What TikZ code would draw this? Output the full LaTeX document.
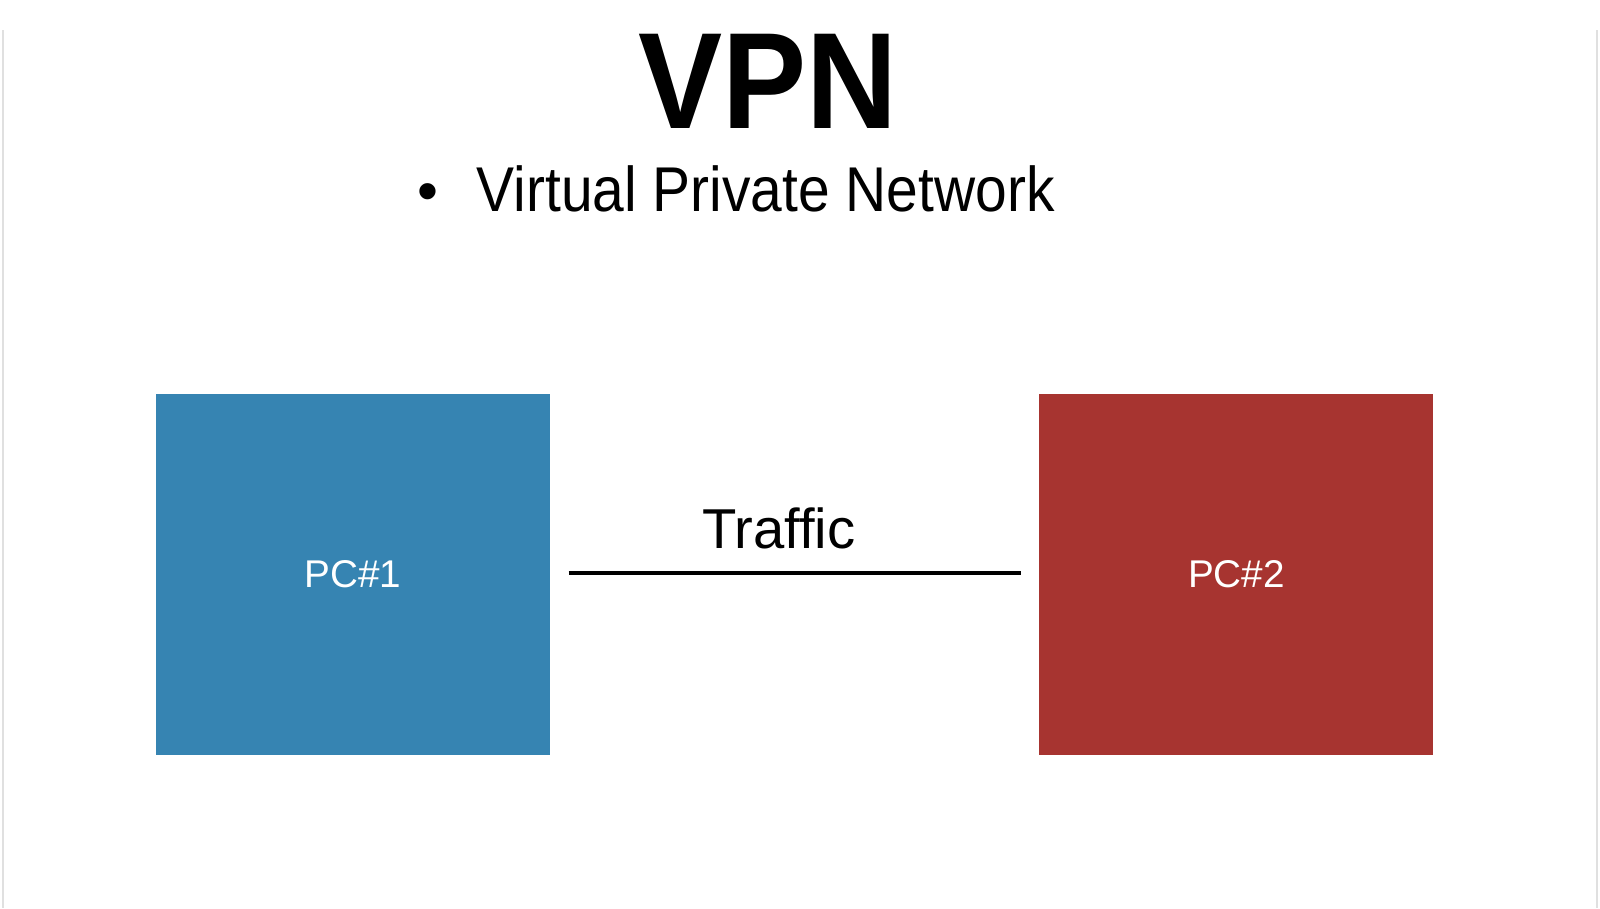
\documentclass[tikz,border=0pt]{standalone}
\usepackage{fontspec}
\setmainfont{Liberation Sans}
\newfontfamily\narrowfont{Liberation Sans}[FakeStretch=0.9]
\newfontfamily\titlefont{Liberation Sans}[FakeStretch=0.92]
\usepackage{tikz,xcolor}
\usetikzlibrary{positioning}

\definecolor{pcblue}{RGB}{54,132,178}
\definecolor{pcred}{RGB}{167,52,48}

\begin{document}
\begin{tikzpicture}[
    pcbox/.style={minimum width=3.94cm, minimum height=3.61cm, inner sep=0pt,
                  text=white, font=\fontsize{11}{13}\selectfont},
    node distance=4.88cm]
      % Fundo e bordas do slide
      \useasboundingbox[fill=white] (0,0) rectangle (16,9.08);
      \draw[black!12, line width=0.6pt] (0.03,0) -- (0.03,8.78);
      \draw[black!12, line width=0.6pt] (15.97,0) -- (15.97,8.78);

      % Titulo
      \node[anchor=base, font=\titlefont\fontsize{39}{43}\selectfont\bfseries] (title) at (7.68,7.80) {VPN};
      \node[anchor=base, font=\fontsize{17}{20}\selectfont] (dot) at (4.28,6.97) {•};
      \node[anchor=base west, inner sep=0pt, font=\narrowfont\fontsize{18}{21}\selectfont] (sub) at (4.76,6.97) {Virtual Private Network};

      % Computadores
      \node[pcbox, fill=pcblue] (pc1) at (3.53,3.335) {PC\#1};
      \node[pcbox, fill=pcred, right=of pc1] (pc2) {PC\#2};

      % Ligacao entre os dois
      \coordinate (a) at ([xshift=0.18cm, yshift=0.015cm]pc1.east);
      \coordinate (b) at ([xshift=-0.18cm, yshift=0.015cm]pc2.west);
      \draw[line width=1pt] (a) -- (b)
        node[midway, anchor=base, xshift=-0.16cm, yshift=0.25cm, font=\fontsize{16}{19}\selectfont] (traffic) {Traffic};
\end{tikzpicture}
\end{document}
